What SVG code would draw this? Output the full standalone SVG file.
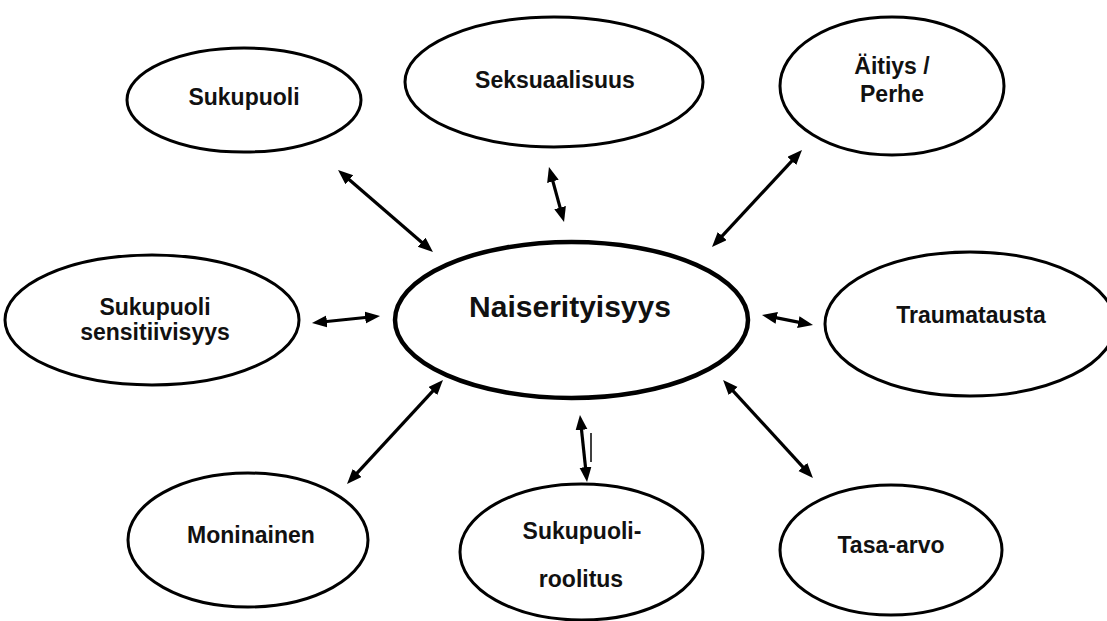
<svg xmlns="http://www.w3.org/2000/svg" width="1107" height="621" viewBox="0 0 1107 621">
<style>
.n ellipse{fill:#fff;stroke:#000;stroke-width:3}
.c ellipse{fill:#fff;stroke:#000;stroke-width:4.5}
text{font-family:"Liberation Sans",Arial,sans-serif;font-weight:bold;fill:#111;text-anchor:middle}
.t{font-size:23px}
.tc{font-size:30px}
#connectors line{stroke:#000;stroke-width:3.2;marker-start:url(#ah);marker-end:url(#ah)}
</style>
<defs>
<marker id="ah" markerUnits="userSpaceOnUse" markerWidth="17" markerHeight="13" refX="5" refY="6" orient="auto-start-reverse">
<path d="M0,0 L15,6 L0,12 z" fill="#000"/>
</marker>
</defs>
<rect width="1107" height="621" fill="#fff"/>
<g id="connectors">
<line x1="345.6" y1="176.5" x2="425.4" y2="245.5"/>
<line x1="551.6" y1="176.6" x2="561.4" y2="212.4"/>
<line x1="795.2" y1="157.3" x2="718.8" y2="239.7"/>
<line x1="321.9" y1="322" x2="370.1" y2="317"/>
<line x1="771.8" y1="316.9" x2="803.2" y2="323.1"/>
<line x1="436.2" y1="387.4" x2="353.8" y2="476.6"/>
<line x1="581" y1="424.9" x2="586" y2="472.1"/>
<line x1="729.8" y1="387.4" x2="806.2" y2="470.6"/>
<path d="M591,433 L591,462" stroke="#000" stroke-width="1.5" fill="none"/>
</g>
<g id="node-sukupuoli" class="n">
<ellipse cx="244" cy="100" rx="117" ry="52"/>
<text class="t" x="244" y="105">Sukupuoli</text>
</g>
<g id="node-seksuaalisuus" class="n">
<ellipse cx="554" cy="82" rx="149" ry="65"/>
<text class="t" x="555" y="88">Seksuaalisuus</text>
</g>
<g id="node-aitiys" class="n">
<ellipse cx="892" cy="86" rx="112" ry="69"/>
<text class="t" x="892" y="74">Äitiys /</text>
<text class="t" x="892" y="102">Perhe</text>
</g>
<g id="node-sensitiivisyys" class="n">
<ellipse cx="152" cy="320" rx="147" ry="65"/>
<text class="t" x="155" y="315">Sukupuoli</text>
<text class="t" x="155" y="340">sensitiivisyys</text>
</g>
<g id="node-naiserityisyys" class="c">
<ellipse cx="571.5" cy="320" rx="176.5" ry="78"/>
<text class="tc" x="570" y="317">Naiserityisyys</text>
</g>
<g id="node-traumatausta" class="n">
<ellipse cx="970" cy="324" rx="145" ry="72"/>
<text class="t" x="971" y="323">Traumatausta</text>
</g>
<g id="node-moninainen" class="n">
<ellipse cx="248" cy="540" rx="120" ry="67"/>
<text class="t" x="251" y="543">Moninainen</text>
</g>
<g id="node-roolitus" class="n">
<ellipse cx="581.5" cy="552" rx="121.5" ry="68"/>
<text class="t" x="582" y="539">Sukupuoli-</text>
<text class="t" x="581" y="587">roolitus</text>
</g>
<g id="node-tasa-arvo" class="n">
<ellipse cx="891" cy="550" rx="111" ry="65"/>
<text class="t" x="891" y="553">Tasa-arvo</text>
</g>
</svg>
